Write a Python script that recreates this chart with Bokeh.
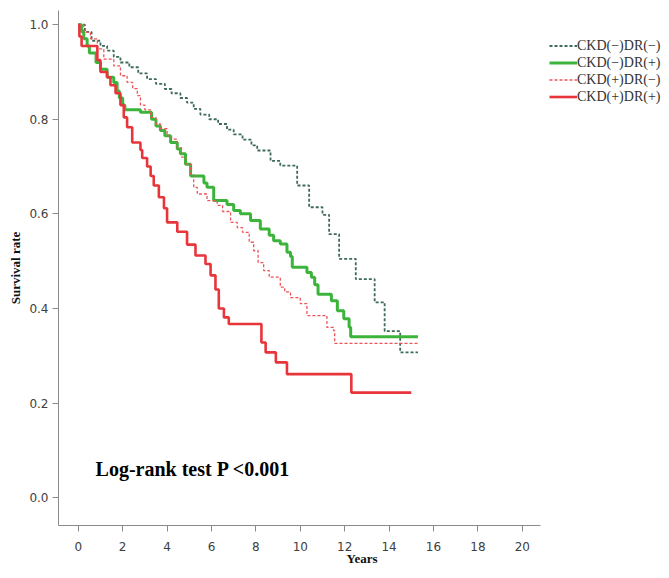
from bokeh.plotting import figure
from bokeh.models import Range1d, FixedTicker, Legend, LegendItem, Label, PrintfTickFormatter
from bokeh.embed import file_html
from bokeh.resources import INLINE

# Kaplan-Meier estimates (time in years, survival after step)
t_nn = [0, 0.3, 0.6, 1.0, 1.3, 1.6, 1.9, 2.3, 2.7, 3.1, 3.5, 3.9, 4.2, 4.6, 4.9, 5.2, 5.5, 5.9, 6.3, 6.7,
        7.0, 7.4, 7.8, 8.06, 8.66, 9.1, 9.86, 10.4, 11.0, 11.3, 11.75, 12.5, 13.35, 13.8, 14.5, 15.3]
s_nn = [1.0, 0.985, 0.966, 0.955, 0.945, 0.932, 0.92, 0.91, 0.897, 0.885, 0.875, 0.864, 0.855, 0.845, 0.835,
        0.822, 0.81, 0.80, 0.79, 0.778, 0.768, 0.757, 0.745, 0.734, 0.712, 0.702, 0.66, 0.614, 0.598, 0.557,
        0.505, 0.462, 0.413, 0.352, 0.307, 0.307]

t_np = [0, 0.15, 0.25, 0.4, 0.5, 0.8, 1.0, 1.3, 1.6, 1.75, 1.85, 2.0, 2.1, 2.8, 3.3, 3.5, 3.7, 3.9, 4.16, 4.46,
        4.6, 4.83, 5.06, 5.66, 5.8, 6.1, 6.7, 7.0, 7.3, 7.76, 8.2, 8.6, 8.8, 9.1, 9.4, 9.56, 9.64, 10.3, 10.5,
        10.65, 10.8, 11.4, 11.67, 11.96, 12.2, 12.27, 15.3]
s_np = [1.0, 0.985, 0.97, 0.955, 0.94, 0.92, 0.906, 0.889, 0.878, 0.86, 0.845, 0.83, 0.82, 0.815, 0.80, 0.786,
        0.776, 0.765, 0.751, 0.737, 0.727, 0.705, 0.68, 0.665, 0.656, 0.628, 0.62, 0.607, 0.60, 0.586, 0.568,
        0.555, 0.543, 0.536, 0.519, 0.51, 0.487, 0.476, 0.466, 0.45, 0.43, 0.416, 0.395, 0.378, 0.36, 0.34, 0.34]

t_pn = [0, 0.25, 0.55, 0.86, 1.15, 1.6, 1.9, 2.2, 2.45, 2.66, 2.8, 3.0, 3.26, 3.5, 3.7, 4.0, 4.2, 4.46, 4.65,
        4.83, 5.06, 5.2, 5.36, 5.8, 6.26, 6.5, 6.86, 7.16, 7.4, 7.7, 7.9, 8.1, 8.35, 8.6, 9.1, 9.3, 9.56, 10.0,
        10.3, 11.2, 11.5, 11.55, 15.3]
s_pn = [1.0, 0.984, 0.97, 0.949, 0.927, 0.913, 0.892, 0.878, 0.865, 0.85, 0.83, 0.82, 0.804, 0.79, 0.78, 0.765,
        0.758, 0.74, 0.72, 0.705, 0.684, 0.656, 0.642, 0.628, 0.618, 0.605, 0.582, 0.571, 0.561, 0.54, 0.522,
        0.497, 0.48, 0.466, 0.445, 0.435, 0.423, 0.41, 0.385, 0.36, 0.353, 0.326, 0.326]

t_pp = [0, 0.05, 0.15, 0.86, 1.0, 1.3, 1.45, 1.68, 1.9, 2.05, 2.2, 2.43, 2.8, 2.88, 3.1, 3.26, 3.4, 3.63, 3.86,
        4.0, 4.46, 4.9, 5.28, 5.73, 5.96, 6.18, 6.33, 6.56, 6.78, 8.25, 8.44, 8.9, 9.4, 12.3, 15.0]
s_pp = [1.0, 0.975, 0.955, 0.925, 0.9, 0.889, 0.872, 0.855, 0.83, 0.804, 0.783, 0.751, 0.735, 0.718, 0.70, 0.68,
        0.66, 0.635, 0.612, 0.582, 0.562, 0.535, 0.512, 0.494, 0.47, 0.44, 0.40, 0.381, 0.367, 0.328, 0.307,
        0.286, 0.261, 0.222, 0.222]

labels = ["CKD(\u2212)DR(\u2212)", "CKD(\u2212)DR(+)", "CKD(+)DR(\u2212)", "CKD(+)DR(+)"]
x_ticks = [0, 2, 4, 6, 8, 10, 12, 14, 16, 18, 20]
y_ticks = [0.0, 0.2, 0.4, 0.6, 0.8, 1.0]

X_MIN, X_AXIS_END = -0.89, 20.82

p = figure(width=665, height=570, output_backend="svg", toolbar_location=None,
           x_range=Range1d(X_MIN, 26.45), y_range=Range1d(-0.059, 1.03),
           min_border_left=58, min_border_right=0, min_border_top=10, min_border_bottom=45)
p.outline_line_color = None
p.xgrid.visible = False
p.ygrid.visible = False

r1 = p.step(t_nn, s_nn, mode="after", line_color="#3e6b58", line_width=1.8, line_dash="3 2")
r2 = p.step(t_np, s_np, mode="after", line_color="#3cb43c", line_width=3)
r3 = p.step(t_pn, s_pn, mode="after", line_color="#ee5559", line_width=1.3, line_dash="3 2")
r4 = p.step(t_pp, s_pp, mode="after", line_color="#e8353b", line_width=2.6)

for ax in (p.xaxis[0], p.yaxis[0]):
    ax.axis_line_color = "#8a8a8a"
    ax.major_tick_line_color = "#8a8a8a"
    ax.major_tick_out = 6
    ax.major_tick_in = 0
    ax.minor_tick_line_color = None
    ax.major_label_text_font = "DejaVu Sans"
    ax.major_label_text_font_size = "12px"
    ax.major_label_text_color = "#404040"
    ax.axis_label_text_font = "Liberation Serif"
    ax.axis_label_text_font_style = "bold"
    ax.axis_label_text_color = "#111111"

p.xaxis.bounds = (X_MIN, X_AXIS_END)
p.xaxis.ticker = FixedTicker(ticks=x_ticks)
p.yaxis.ticker = FixedTicker(ticks=y_ticks)
p.yaxis.formatter = PrintfTickFormatter(format="%.1f")
p.xaxis.axis_label = "Years"
p.yaxis.axis_label = "Survival rate"
p.xaxis.axis_label_text_font_size = "13px"
p.yaxis.axis_label_text_font_size = "13px"
p.xaxis.major_label_standoff = 10
p.yaxis.major_label_standoff = 4
p.xaxis.axis_label_standoff = -3
p.yaxis.axis_label_standoff = 3

legend = Legend(items=[LegendItem(label=labels[0], renderers=[r1]),
                       LegendItem(label=labels[1], renderers=[r2]),
                       LegendItem(label=labels[2], renderers=[r3]),
                       LegendItem(label=labels[3], renderers=[r4])],
                location=(491, 420))
legend.border_line_color = None
legend.background_fill_alpha = 0
legend.padding = 0
legend.margin = 0
legend.spacing = 0
legend.glyph_width = 28
legend.glyph_height = 17
legend.label_height = 17
legend.label_standoff = 0
legend.label_text_font = "Liberation Serif"
legend.label_text_font_size = "14px"
legend.label_text_color = "#333333"
p.add_layout(legend)

p.add_layout(Label(x=0.78, y=0.038, text="Log-rank test P <0.001", text_font="Liberation Serif",
                   text_font_style="bold", text_font_size="20px", text_color="#000000"))

open("out.html", "w").write(file_html(p, INLINE))
